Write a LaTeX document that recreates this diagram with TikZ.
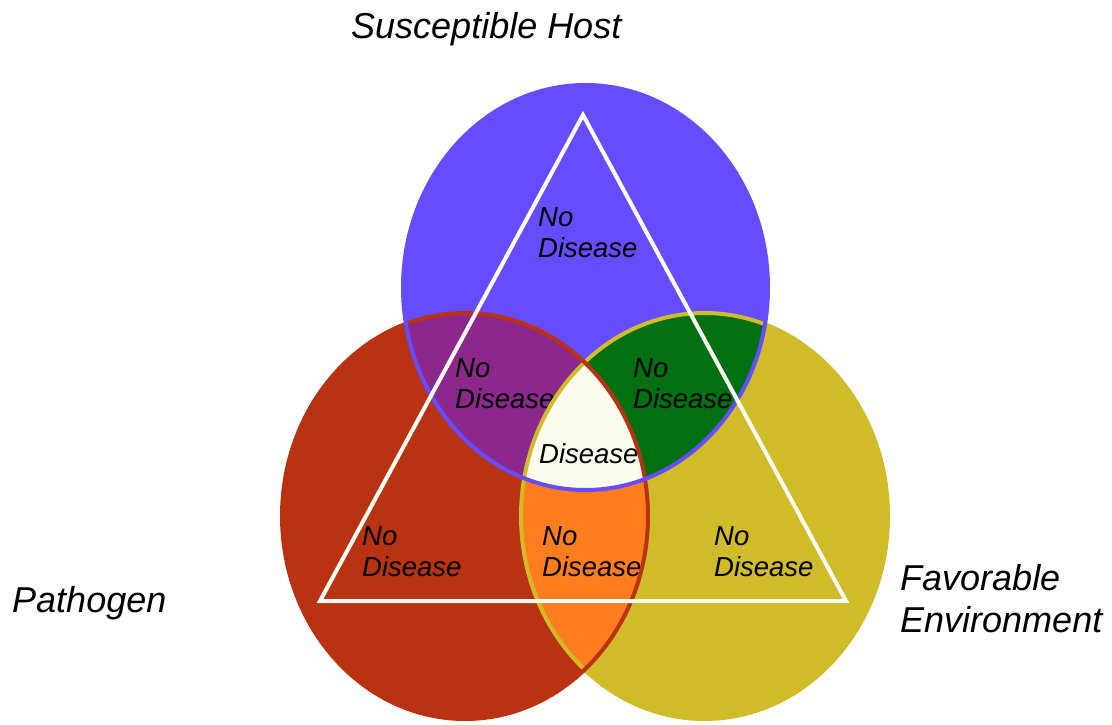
\documentclass[tikz,border=0pt]{standalone}
\usepackage{fontspec}
\setmainfont{Liberation Sans}
\definecolor{hostc}{HTML}{664CFF}
\definecolor{pathc}{HTML}{B93211}
\definecolor{envc}{HTML}{D0BB28}
\definecolor{purplec}{HTML}{8C288C}
\definecolor{greenc}{HTML}{007010}
\definecolor{orangec}{HTML}{FF7D1E}
\definecolor{centerc}{HTML}{FCFCEE}
\definecolor{trianglec}{HTML}{FFFDF5}
\tikzset{
  region/.style={anchor=north west, inner sep=0pt, align=left, font=\fontsize{27.5}{31}\selectfont\itshape},
  title/.style={anchor=north west, inner sep=0pt, align=left, font=\fontsize{36}{42}\selectfont\itshape},
  rim/.style={line width=4pt}
}
\def\hostpath{(585.5,287.5) ellipse [x radius=182.5, y radius=202.5]}
\def\pathpath{(465,516) ellipse [x radius=183, y radius=203]}
\def\envpath{(704.5,516) ellipse [x radius=183.5, y radius=203]}
\begin{document}
\begin{tikzpicture}[x=1pt,y=-1pt]
\useasboundingbox (0,0) rectangle (1112,724);
% base fills
\fill[hostc] \hostpath;
\fill[pathc] \pathpath;
\fill[envc] \envpath;
% pairwise intersections
\begin{scope}
  \clip \hostpath;
  \fill[purplec] \pathpath;
  \fill[greenc] \envpath;
\end{scope}
\begin{scope}
  \clip \pathpath;
  \fill[orangec] \envpath;
\end{scope}
\begin{scope}
  \clip \hostpath;
  \clip \pathpath;
  \fill[centerc] \envpath;
\end{scope}
% region labels
\node[region] (lhost) at (538,207) {No\\Disease};
\node[region] (lhp) at (455,358) {No\\Disease};
\node[region] (lhe) at (633,358) {No\\Disease};
\node[region] (lall) at (539,443) {Disease};
\node[region] (lpath) at (362,526) {No\\Disease};
\node[region] (lpe) at (542,526) {No\\Disease};
\node[region] (lenv) at (714,526) {No\\Disease};
% rims
\draw[rim, envc] \envpath;
\draw[rim, pathc] \pathpath;
\draw[rim, hostc] \hostpath;
% triangle
\coordinate (ta) at (583,115);
\coordinate (tb) at (320,601);
\coordinate (tc) at (846,601);
\draw[line width=4pt, trianglec, line join=miter] (ta) -- (tb) -- (tc) -- cycle;
% titles
\node[title] (thost) at (351,12) {Susceptible Host};
\node[title] (tpath) at (12,586) {Pathogen};
\node[title] (tenv) at (900,564) {Favorable\\Environment};
\end{tikzpicture}
\end{document}
